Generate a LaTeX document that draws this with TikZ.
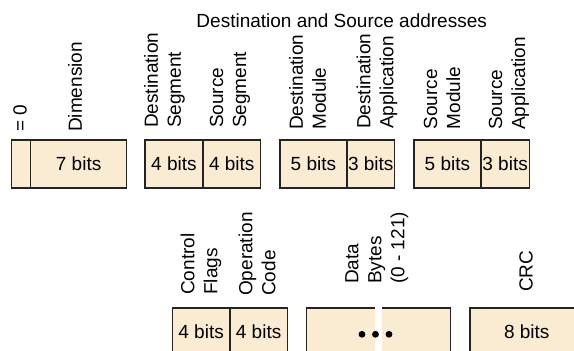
\documentclass[tikz,border=0pt]{standalone}
\usepackage{fontspec}
\setmainfont{Liberation Sans}
\usetikzlibrary{calc}
\definecolor{fieldtan}{RGB}{250,236,211}
\definecolor{fieldline}{RGB}{35,35,35}
\tikzset{
    every node/.style={font=\fontsize{19}{23}\selectfont},
    field/.style={draw=fieldline, fill=fieldtan, line width=1.2pt, anchor=north west, inner sep=0pt},
    fieldname/.style={rotate=90, anchor=west, align=left, inner sep=0pt},
}
\newcommand{\bitfield}[6]{\node[field, minimum width={#3-#2}, minimum height={#5-#4}] (#1) at (#2, #4) {#6};}
\newcommand{\fieldname}[4]{\node[fieldname] (#1) at (#2, #3) {#4};}

\begin{document}
\begin{tikzpicture}[x=1pt, y=-1pt]
        \useasboundingbox (0, 0) rectangle (574, 351);
        \clip (0, 0) rectangle (574, 351);

        % Header fields
        \bitfield{zero}{10.7}{30}{139.3}{187.3}{}
        \bitfield{dim}{30}{126}{139.3}{187.3}{7 bits}
        \bitfield{dseg}{144.3}{202.3}{139.3}{187.3}{4 bits}
        \bitfield{sseg}{202.3}{260}{139.3}{187.3}{4 bits}
        \bitfield{dmod}{279.3}{346.3}{139.3}{187.3}{5 bits}
        \bitfield{dapp}{346.3}{394}{139.3}{187.3}{3 bits}
        \bitfield{smod}{413.3}{480.3}{139.3}{187.3}{5 bits}
        \bitfield{sapp}{480.3}{528.7}{139.3}{187.3}{3 bits}

        % Body fields
        \bitfield{flags}{171.7}{229.3}{307.3}{355.3}{4 bits}
        \bitfield{opcode}{229.3}{286.7}{307.3}{355.3}{4 bits}
        \bitfield{data}{306}{450}{307.3}{355.3}{}
        \bitfield{crc}{469.3}{583}{307.3}{355.3}{8 bits}

        % Break in the data bytes
        \fill[white] (375, 300) rectangle (382, 352);
        \foreach \x in {362, 375.5, 389} {
            \fill (\x, 334.3) circle (3.4);
        }

        % Field names
        \fieldname{nzero}{20}{132}{= 0}
        \fieldname{ndim}{75}{132}{Dimension}
        \fieldname{ndseg}{164.5}{128}{Destination\\Segment}
        \fieldname{nsseg}{230}{128}{Source\\Segment}
        \fieldname{ndmod}{307.5}{130}{Destination\\Module}
        \fieldname{ndapp}{377}{129}{Destination\\Application}
        \fieldname{nsmod}{442}{129.5}{Source\\Module}
        \fieldname{nsapp}{509}{130}{Source\\Application}
        \fieldname{nflags}{201}{295}{Control\\Flags}
        \fieldname{nopcode}{257}{296}{Operation\\Code}
        \fieldname{ndata}{376.7}{284}{Data\\Bytes\\(0 - 121)}
        \fieldname{ncrc}{526}{292}{CRC}

        \node[anchor=base] (addr) at (341.7, 27.3) {Destination and Source addresses};
    \end{tikzpicture}
\end{document}
